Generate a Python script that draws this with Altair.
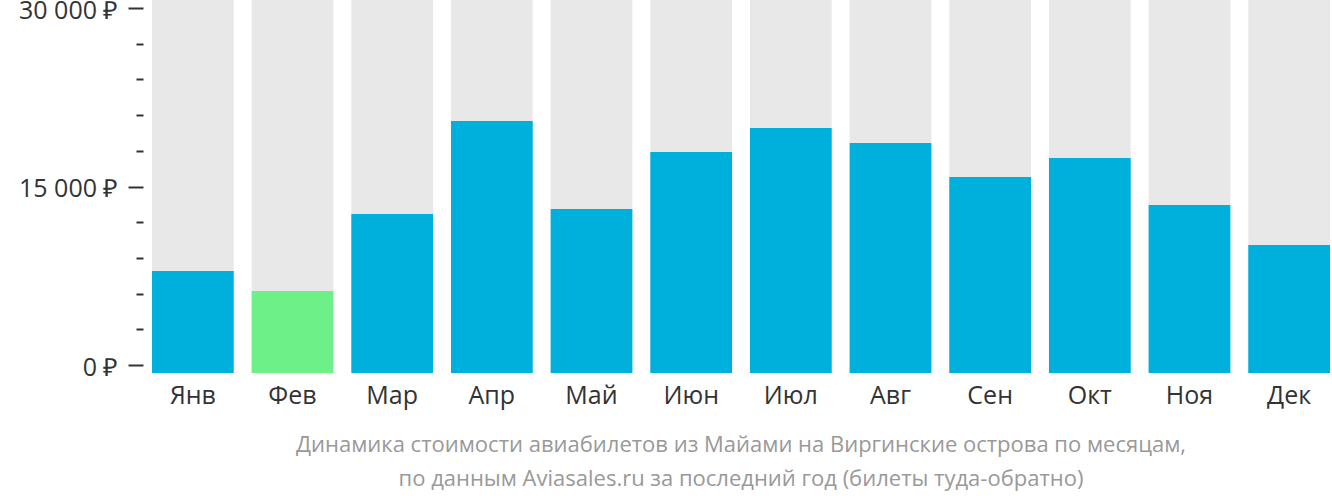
import altair as alt
import pandas as pd

months = ["Янв", "Фев", "Мар", "Апр", "Май", "Июн", "Июл", "Авг", "Сен", "Окт", "Ноя", "Дек"]
prices = [7899, 6218, 12689, 20504, 13109, 17899, 19916, 18655, 15798, 17395, 13445, 10084]
highlight = ["no", "yes", "no", "no", "no", "no", "no", "no", "no", "no", "no", "no"]

major_ticks = [0, 15000, 30000]
minor_ticks = [3000, 6000, 9000, 12000, 18000, 21000, 24000, 27000]

Y_MIN = -672.27
Y_MAX = 30672.27

title_lines = [
    "Динамика стоимости авиабилетов из Майами на Виргинские острова по месяцам,",
    "по данным Aviasales.ru за последний год (билеты туда-обратно)",
]

df = pd.DataFrame({"month": months, "price": prices, "hl": highlight})

FONT = "Open Sans"

x_enc = alt.X(
    "month:N",
    sort=months,
    scale=alt.Scale(paddingInner=0.18, paddingOuter=0),
    axis=alt.Axis(
        title=None, ticks=False, tickSize=0, domain=False, labelAngle=0,
        labelFont=FONT, labelFontSize=25, labelColor="#333333", labelPadding=10,
    ),
)

yscale = alt.Scale(domain=[Y_MIN, Y_MAX], nice=False, zero=False)

bg = alt.Chart(df).mark_bar(color="#e8e8e8").encode(
    x=x_enc,
    y=alt.Y(
        datum=Y_MAX,
        type="quantitative",
        scale=yscale,
        axis=alt.Axis(
            title=None, values=major_ticks, tickSize=15, tickWidth=2, tickColor="#333333",
            domain=False, grid=False, offset=9, labelPadding=10, labelOffset=2,
            labelFont=FONT, labelFontSize=25, labelColor="#333333",
            labelExpr="replace(format(datum.value, ',d'), ',', ' ') + ' ₽'",
        ),
    ),
    y2=alt.datum(Y_MIN),
)

bars = alt.Chart(df).mark_bar().encode(
    x=x_enc,
    y=alt.Y(
        "price:Q",
        scale=yscale,
        axis=alt.Axis(
            title=None, values=minor_ticks, tickSize=7, tickWidth=2, tickColor="#333333",
            domain=False, grid=False, offset=9, labels=False, orient="left",
        ),
    ),
    y2=alt.datum(Y_MIN),
    color=alt.Color(
        "hl:N",
        scale=alt.Scale(domain=["no", "yes"], range=["#00b0dc", "#6cf087"]),
        legend=None,
    ),
)

chart = (
    alt.layer(bg, bars)
    .resolve_axis(y="independent")
    .properties(
        width=1178,
        height=373,
        autosize=alt.AutoSizeParams(type="none"),
        padding={"left": 152, "top": 0, "right": 0, "bottom": 122},
        title=alt.TitleParams(
            text=title_lines, orient="bottom", anchor="middle", font=FONT,
            fontSize=22, fontWeight="normal", color="#999999", lineHeight=34, offset=27,
        ),
    )
    .configure_view(stroke=None)
)

chart.save("out.html", embed_options={"renderer": "svg", "actions": False})
